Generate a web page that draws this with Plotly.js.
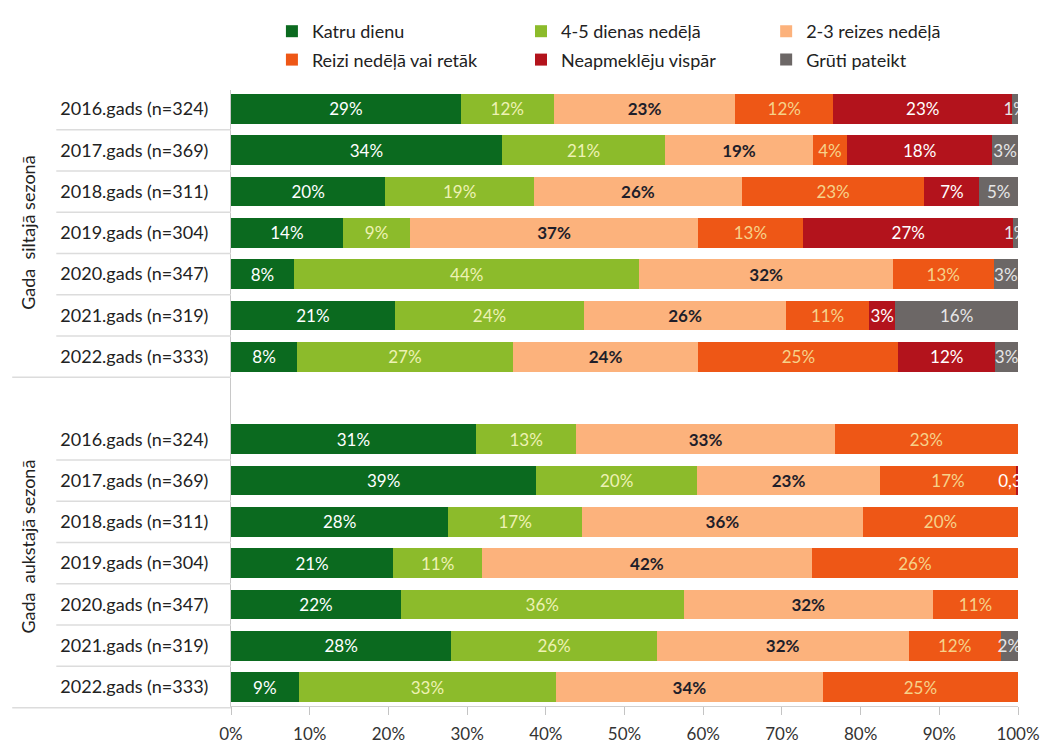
<!DOCTYPE html>
<html>
<head>
<meta charset="utf-8">
<script src="https://cdn.plot.ly/plotly-3.0.1.min.js"></script>
<style>html,body{margin:0;padding:0;background:#fff;}#chart{width:1042px;height:744px;}</style>
</head>
<body>
<div id="chart"></div>
<script>
// ---- data ----
const rowLabels = [
  "2016.gads (n=324)", "2017.gads (n=369)", "2018.gads (n=311)", "2019.gads (n=304)",
  "2020.gads (n=347)", "2021.gads (n=319)", "2022.gads (n=333)"
];
const groupTitles = ["Gada  siltajā sezonā", "Gada  aukstajā sezonā"];
const seriesNames = ["Katru dienu", "4-5 dienas nedēļā", "2-3 reizes nedēļā",
                     "Reizi nedēļā vai retāk", "Neapmeklēju vispār", "Grūti pateikt"];

// warm season (siltajā sezonā), rows 2016..2022 (percent)
const warmKatru   = [29.2, 34.4, 19.6, 14.2, 8.0, 20.8, 8.4];
const warm45      = [11.8, 20.8, 18.9, 8.6, 43.9, 24.1, 27.4];
const warm23      = [23.1, 18.7, 26.4, 36.5, 32.2, 25.6, 23.6];
const warmReizi   = [12.4, 4.4, 23.2, 13.4, 12.8, 10.6, 25.4];
const warmNeap    = [22.8, 18.4, 7.0, 26.7, 0, 3.3, 12.3];
const warmGruti   = [0.7, 3.3, 4.9, 0.6, 3.1, 15.6, 2.9];

// cold season (aukstajā sezonā), rows 2016..2022
const coldKatru   = [31.1, 38.8, 27.6, 20.6, 21.6, 28.0, 8.6];
const cold45      = [12.8, 20.4, 17.0, 11.3, 35.9, 26.1, 32.7];
const cold23      = [32.8, 23.3, 35.7, 41.9, 31.7, 32.0, 33.9];
const coldReizi   = [23.3, 17.2, 19.7, 26.2, 10.8, 11.7, 24.8];
const coldNeap    = [0, 0.3, 0, 0, 0, 0, 0];
const coldGruti   = [0, 0, 0, 0, 0, 2.2, 0];

const xTickVals = [0, 10, 20, 30, 40, 50, 60, 70, 80, 90, 100];
const xTickText = ["0%", "10%", "20%", "30%", "40%", "50%", "60%", "70%", "80%", "90%", "100%"];

// ---- styling ----
const colors = ["#0b6a1f", "#8cbb2b", "#fcb27c", "#ee5716", "#b3131c", "#6c6766"];
const textColors = ["#ffffff", "#eef2b4", "#1e1e2a", "#f6d28a", "#ffffff", "#e6e6e6"];
const textWeights = ["normal", "normal", "bold", "normal", "normal", "normal"];
const font = "Lato, 'Open Sans', sans-serif";

const warm = [warmKatru, warm45, warm23, warmReizi, warmNeap, warmGruti];
const cold = [coldKatru, cold45, cold23, coldReizi, coldNeap, coldGruti];

// y positions: warm rows 0..6, gap at 7, cold rows 8..14
const yPos = [];
rowLabels.forEach((_, i) => yPos.push(i));
rowLabels.forEach((_, i) => yPos.push(i + 8));
const tickText = rowLabels.concat(rowLabels);

const fmt = v => v <= 0 ? '' : (v >= 0.5 ? Math.round(v) + '%' : String(v).replace('.', ',') + '%');

const legendIds = ["legend", "legend2", "legend3", "legend", "legend2", "legend3"];

const traces = seriesNames.map((name, s) => {
  const all = warm[s].concat(cold[s]);
  return {
    type: 'bar',
    orientation: 'h',
    name: name,
    x: all.map(v => v > 0 ? v : null),
    y: yPos,
    width: 0.72,
    marker: {color: colors[s], line: {width: 0}},
    text: all.map(fmt),
    textposition: 'inside',
    insidetextanchor: 'middle',
    constraintext: 'none',
    cliponaxis: true,
    textangle: 0,
    insidetextfont: {family: font, size: 17, color: textColors[s], weight: textWeights[s]},
    hoverinfo: 'skip',
    legend: legendIds[s],
    legendgroup: 'g' + s
  };
});

const yMin = -0.46, yMax = 14.46;
const toPaper = v => (yMax - v) / (yMax - yMin);

const shapes = [];
[0, 8].forEach(base => {
  for (let k = 0; k < 7; k++) {
    const yv = base + k + 0.5;
    shapes.push({
      type: 'line', xref: 'paper', yref: 'paper',
      x0: k === 6 ? -0.278 : -0.222, x1: 0,
      y0: toPaper(yv), y1: toPaper(yv),
      line: {color: '#dcdcdc', width: 1.5}
    });
  }
});

const legendBase = {
  orientation: 'v', yanchor: 'top', xanchor: 'left',
  font: {family: font, size: 18, color: '#222'},
  bgcolor: 'rgba(0,0,0,0)', traceorder: 'grouped', tracegroupgap: 2,
  y: 1.125, itemclick: false, itemdoubleclick: false
};

const layout = {
  width: 1042, height: 744,
  margin: {l: 231, r: 24, t: 90, b: 38, autoexpand: false},
  paper_bgcolor: '#ffffff', plot_bgcolor: '#ffffff',
  barmode: 'stack',
  font: {family: font, color: '#222'},
  xaxis: {
    range: [0, 100], tickvals: xTickVals, ticktext: xTickText,
    showgrid: false, zeroline: false,
    showline: true, linecolor: '#d0d0d0', linewidth: 1,
    ticks: 'outside', ticklen: 8, tickcolor: '#c4c4c4',
    ticklabelstandoff: 5,
    tickfont: {family: font, size: 17, color: '#333'},
    fixedrange: true
  },
  yaxis: {
    range: [yMax, yMin], tickvals: yPos, ticktext: tickText,
    showgrid: false, zeroline: false,
    showline: true, linecolor: '#c8c8c8', linewidth: 1,
    ticks: 'outside', ticklen: 18, tickcolor: 'rgba(0,0,0,0)',
    tickfont: {family: font, size: 18, color: '#222'},
    fixedrange: true
  },
  showlegend: true,
  legend: Object.assign({}, legendBase, {x: 0.052}),
  legend2: Object.assign({}, legendBase, {x: 0.3685}),
  legend3: Object.assign({}, legendBase, {x: 0.680}),
  shapes: shapes,
  annotations: [
    {text: groupTitles[0], xref: 'paper', yref: 'paper', x: -0.258, y: toPaper(3),
     xanchor: 'center', yanchor: 'middle',
     textangle: -90, showarrow: false, font: {family: font, size: 18, color: '#222'}},
    {text: groupTitles[1], xref: 'paper', yref: 'paper', x: -0.258, y: toPaper(10.6),
     xanchor: 'center', yanchor: 'middle',
     textangle: -90, showarrow: false, font: {family: font, size: 18, color: '#222'}}
  ]
};

Plotly.newPlot('chart', traces, layout, {displayModeBar: false, staticPlot: true});
</script>
</body>
</html>
